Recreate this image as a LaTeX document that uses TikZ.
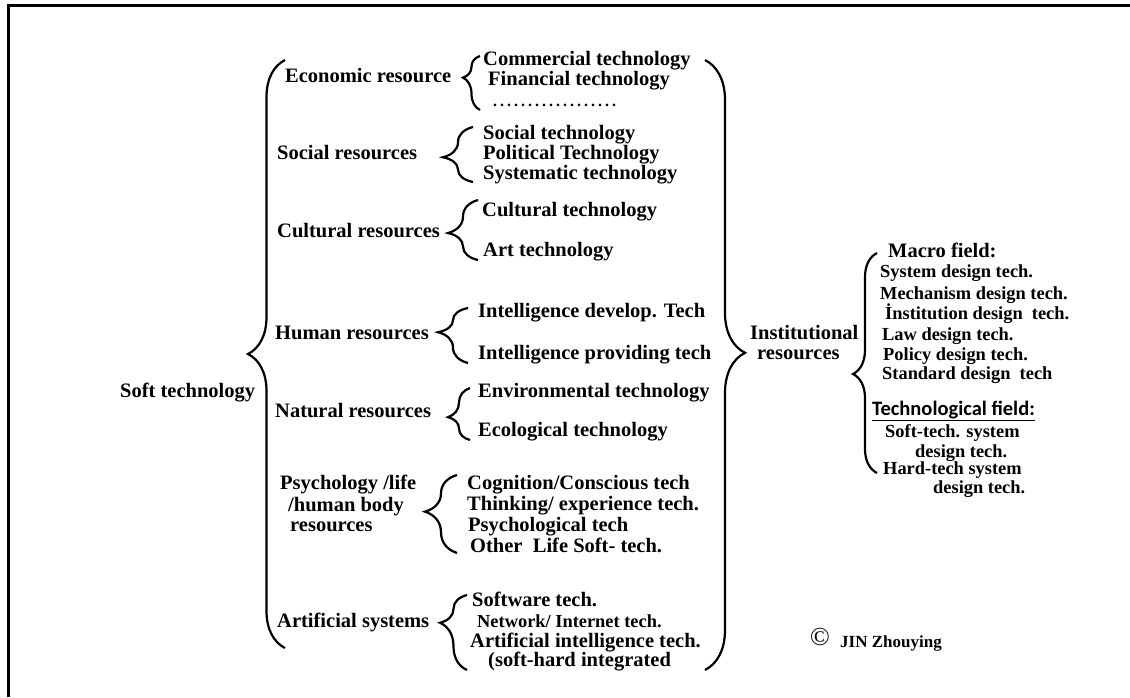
\documentclass[tikz,border=0pt]{standalone}
\usepackage{fontspec}
\setmainfont{Liberation Serif}
\newfontfamily\califont{Carlito}
\usetikzlibrary{decorations.pathreplacing}
\begin{document}
\begin{tikzpicture}[x=1pt, y=-1pt,
    lbl/.style={anchor=west, inner sep=0pt, text height=12pt, text depth=3.5pt,
        font=\fontsize{20.5}{24}\selectfont\bfseries},
    sml/.style={lbl, text height=11pt, text depth=3pt,
        font=\fontsize{18.4}{22}\selectfont\bfseries},
    brc/.style 2 args={line width=2.2pt, decorate,
        decoration={brace, amplitude=#1, aspect=#2}}]
    \useasboundingbox (0,0) rectangle (1130,697);
    \draw[line width=3pt] (8,697) -- (8,5) -- (1130,5);
    \draw[brc={37}{0.5}] (285,648) -- (285,60);
    \draw[brc={40}{0.48}] (705,60) -- (705,670);
    \node[lbl] (soft) at (120,393) {Soft technology};
    \node[lbl] (eco) at (285,78) {Economic resource};
    \node[lbl] (soc) at (277,155) {Social resources};
    \node[lbl] (cul) at (277,233) {Cultural resources};
    \node[lbl] (hum) at (275,335) {Human resources};
    \node[lbl] (nat) at (275,413) {Natural resources};
    \node[lbl] (psy1) at (280,485) {Psychology /life};
    \node[lbl] (psy2) at (288,507) {/human body};
    \node[lbl] (psy3) at (290,527) {resources};
    \node[lbl] (art) at (277,623) {Artificial systems};
    \draw[brc={17}{0.6}] (480,110) -- (480,56);
    \node[lbl] (comm) at (483,61) {Commercial technology};
    \node[lbl] (fin) at (488,81) {Financial technology};
    \node[lbl] (ecodots) at (493,102) {\fontsize{16}{18}\selectfont\foreach \k in {1,...,18}{.\hspace{3pt}}};
    \draw[brc={30}{0.45}] (473,182) -- (473,127);
    \node[lbl] (soctech) at (483,135) {Social technology};
    \node[lbl] (pol) at (483,155) {Political Technology};
    \node[lbl] (sys) at (483,175) {Systematic technology};
    \draw[brc={30}{0.45}] (478,260) -- (478,200);
    \node[lbl] (cultech) at (482,212) {Cultural technology};
    \node[lbl] (arttech) at (483,252) {Art technology};
    \draw[brc={30}{0.56}] (468,363) -- (468,308);
    \node[lbl] (intdev) at (478,313) {Intelligence develop. Tech};
    \node[lbl] (intpro) at (478,355) {Intelligence providing tech};
    \draw[brc={22}{0.44}] (470,440) -- (470,388);
    \node[lbl] (env) at (478,393) {Environmental technology};
    \node[lbl] (eco2) at (478,432) {Ecological technology};
    \draw[brc={32}{0.53}] (457,553) -- (457,475);
    \node[lbl] (cog) at (467,485) {Cognition/Conscious tech};
    \node[lbl] (thi) at (467,506) {Thinking/ experience tech.};
    \node[lbl] (psytech) at (468,527) {Psychological tech};
    \node[lbl] (oth) at (470,548) {Other~ Life Soft- tech.};
    \draw[brc={27}{0.63}] (467,670) -- (467,595);
    \node[lbl] (sw) at (472,602) {Software tech.};
    \node[sml] (net) at (477,623) {Network/ Internet tech.};
    \node[lbl] (ai) at (470,643) {Artificial intelligence tech.};
    \node[lbl] (shi) at (488,662) {(soft-hard integrated};
    \node[lbl] (inst1) at (750,335) {Institutional};
    \node[lbl] (inst2) at (757,355) {resources};
    \draw[brc={24}{0.45}] (877,473) -- (877,253);
    \node[lbl] (macro) at (888,253) {Macro field:};
    \node[sml] (sysd) at (880,273) {System design tech.};
    \node[sml] (mech) at (880,295) {Mechanism design tech.};
    \node[sml] (instd) at (885,315) {İnstitution design~ tech.};
    \node[sml] (law) at (882,336) {Law design tech.};
    \node[sml] (pold) at (883,356) {Policy design tech.};
    \node[sml] (std) at (882,375) {Standard design~ tech};
    \node[lbl, font=\fontsize{20.5}{24}\selectfont\califont\bfseries] (techf) at (872,411) {\underline{Technological field:}};
    \node[sml] (soft1) at (885,433) {Soft-tech. system};
    \node[sml] (soft2) at (915,453) {design tech.};
    \node[sml] (hard1) at (883,470) {Hard-tech system};
    \node[sml] (hard2) at (933,489) {design tech.};
    \node[anchor=center, inner sep=0pt, font=\fontsize{26}{28}\selectfont] (copy) at (820,637) {\textcopyright};
    \node[sml, font=\fontsize{17}{20}\selectfont\bfseries] (jin) at (840,643) {JIN Zhouying};
\end{tikzpicture}
\end{document}
